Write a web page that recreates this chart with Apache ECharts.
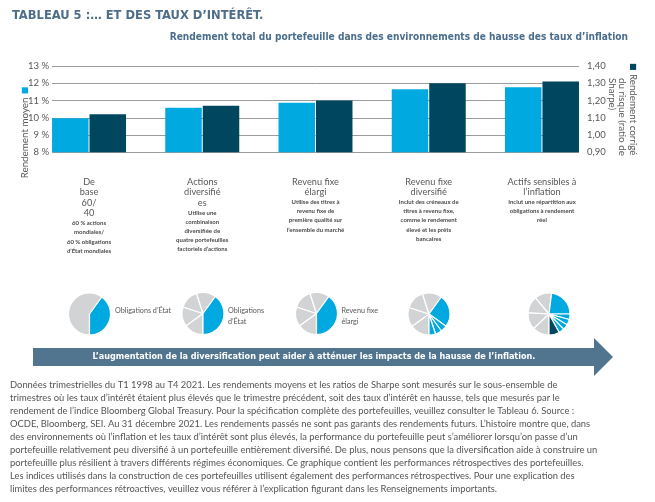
<!DOCTYPE html>
<html><head><meta charset="utf-8">
<script src="https://cdn.jsdelivr.net/npm/echarts@6/dist/echarts.min.js"></script>
<style>html,body{margin:0;padding:0;background:#fff}#c{width:655px;height:502px}</style>
</head><body><div id="c"></div>
<script>
// ---------- data ----------
const categoryTitles = ['De\nbase\n60/\n40', 'Actions\ndiversifié\nes', 'Revenu fixe\nélargi', 'Revenu fixe\ndiversifié', 'Actifs sensibles à\nl’inflation'];
const categoryNotes = [
  '60 % actions\nmondiales/\n60 % obligations\nd’État mondiales',
  'Utilise une\ncombinaison\ndiversifiée de\nquatre portefeuilles\nfactoriels d’actions',
  'Utilise des titres à\nrevenu fixe de\npremière qualité sur\nl’ensemble du marché',
  'Inclut des créneaux de\ntitres à revenu fixe,\ncomme le rendement\nélevé et les prêts\nbancaires',
  'Inclut une répartition aux\nobligations à rendement\nréel'
];
const avgReturn = [9.98, 10.58, 10.87, 11.66, 11.77];        // Rendement moyen (%)
const sharpeRatio = [1.12, 1.17, 1.20, 1.30, 1.31];           // ratio de Sharpe
const leftTickLabels = ['8 %', '9 %', '10 %', '11 %', '12 %', '13 %'];
const rightTickLabels = ['0,90', '1,00', '1,10', '1,20', '1,30', '1,40'];
const pieValues = [
  [60, 40],
  [15, 15, 15, 15, 40],
  [15, 15, 15, 15, 40],
  [15, 15, 15, 15, 25, 5, 5, 5],
  [13, 13, 13, 13, 23, 4.25, 4.25, 4.25, 4.25, 8]
];
const pieTypes = [
  ['Actions', 'Obligations'],
  ['Actions', 'Actions', 'Actions', 'Actions', 'Obligations'],
  ['Actions', 'Actions', 'Actions', 'Actions', 'Obligations'],
  ['Actions', 'Actions', 'Actions', 'Actions', 'Obligations', 'Obligations', 'Obligations', 'Obligations'],
  ['Actions', 'Actions', 'Actions', 'Actions', 'Obligations', 'Obligations', 'Obligations', 'Obligations', 'Obligations', 'Réel']
];
const pieCaptions = ['Obligations d’État', 'Obligations\nd’État', 'Revenu fixe\nélargi', '', ''];
const titleText = 'TABLEAU 5 :… ET DES TAUX D’INTÉRÊT.';
const subtitleText = 'Rendement total du portefeuille dans des environnements de hausse des taux d’inflation';
const arrowText = 'L’augmentation de la diversification peut aider à atténuer les impacts de la hausse de l’inflation.';
const footnoteLines = [
  'Données trimestrielles du T1 1998 au T4 2021. Les rendements moyens et les ratios de Sharpe sont mesurés sur le sous-ensemble de',
  'trimestres où les taux d’intérêt étaient plus élevés que le trimestre précédent, soit des taux d’intérêt en hausse, tels que mesurés par le',
  'rendement de l’indice Bloomberg Global Treasury. Pour la spécification complète des portefeuilles, veuillez consulter le Tableau 6. Source :',
  'OCDE, Bloomberg, SEI. Au 31 décembre 2021. Les rendements passés ne sont pas garants des rendements futurs. L’histoire montre que, dans',
  'des environnements où l’inflation et les taux d’intérêt sont plus élevés, la performance du portefeuille peut s’améliorer lorsqu’on passe d’un',
  'portefeuille relativement peu diversifié à un portefeuille entièrement diversifié. De plus, nous pensons que la diversification aide à construire un',
  'portefeuille plus résilient à travers différents régimes économiques. Ce graphique contient les performances rétrospectives des portefeuilles.',
  'Les indices utilisés dans la construction de ces portefeuilles utilisent également des performances rétrospectives. Pour une explication des',
  'limites des performances rétroactives, veuillez vous référer à l’explication figurant dans les Renseignements importants.'
];

// ---------- styling ----------
const LIGHT = '#00A9E0', DARK = '#00465E', GRAY = '#D1D3D5';
const typeColor = { 'Actions': GRAY, 'Obligations': LIGHT, 'Réel': DARK };
const F = 'Lato, "Open Sans", sans-serif';
const NARROW = '"Liberation Sans Narrow", "DejaVu Sans Condensed", sans-serif';
const TXT = '#585858';

const chart = echarts.init(document.getElementById('c'), null, { renderer: 'canvas' });

const pieCenters = [[89.5, 314], [203, 313.5], [316.5, 313.5], [429, 314], [549, 314]];
const pieSeries = pieValues.map((vals, p) => ({
  type: 'pie', silent: true, animation: false,
  center: pieCenters[p], radius: 21, startAngle: -90, clockwise: true,
  label: { show: false }, labelLine: { show: false },
  itemStyle: { borderColor: '#fff', borderWidth: 1.2 },
  data: vals.map((v, i) => ({ value: v, name: pieTypes[p][i], itemStyle: { color: typeColor[pieTypes[p][i]] } }))
}));

function catLabel(i) {
  const t = categoryTitles[i].split('\n').map(s => '{t|' + s + '}');
  const d = categoryNotes[i].split('\n').map(s => '{d|' + s + '}');
  return t.concat(d).join('\n');
}

const option = {
  animation: false,
  backgroundColor: '#fff',
  grid: { left: 52, right: 76, top: 66, height: 86.3 },
  xAxis: {
    type: 'value', min: -0.327, max: 4.327,
    axisLine: { show: false }, axisTick: { show: false }, splitLine: { show: false },
    axisLabel: {
      show: true, customValues: [0, 1, 2, 3, 4], margin: 24, align: 'center', verticalAlign: 'top',
      formatter: v => catLabel(Math.round(v)),
      rich: {
        t: { fontFamily: F, fontSize: 9.2, lineHeight: 10.6, color: TXT },
        d: { fontFamily: F, fontSize: 6, lineHeight: 9.2, color: '#4a4a4a', fontWeight: 'bold' }
      }
    }
  },
  yAxis: [
    {
      type: 'value', min: 8, max: 13, interval: 1,
      axisLine: { show: false }, axisTick: { show: false },
      splitLine: { show: true, lineStyle: { color: '#9C9C9C', width: 1 } },
      axisLabel: { margin: 3, fontFamily: F, fontSize: 9.5, color: TXT,
        formatter: v => leftTickLabels[Math.round(v - 8)] }
    },
    {
      type: 'value', min: 0.9, max: 1.4, interval: 0.1,
      axisLine: { show: false }, axisTick: { show: false }, splitLine: { show: false },
      axisLabel: { margin: 8, fontFamily: F, fontSize: 9.5, color: TXT,
        formatter: v => rightTickLabels[Math.round((v - 0.9) * 10)] }
    }
  ],
  series: [
    { type: 'bar', name: 'Rendement moyen', yAxisIndex: 0, barWidth: 36.5, barGap: '2.7%',
      itemStyle: { color: LIGHT }, silent: true,
      data: avgReturn.map((v, i) => [i, v]) },
    { type: 'bar', name: 'Rendement corrigé du risque (ratio de Sharpe)', yAxisIndex: 1, barWidth: 36.5, barGap: '2.7%',
      itemStyle: { color: DARK }, silent: true,
      data: sharpeRatio.map((v, i) => [i, v]) }
  ].concat(pieSeries),
  graphic: [
    { type: 'text', x: 12, y: 15.5, style: { text: titleText, font: 'bold 12.8px ' + NARROW, fill: '#4E6D89', verticalAlign: 'middle' } },
    { type: 'text', x: 628, y: 37, style: { text: subtitleText, font: 'bold 10.1px ' + NARROW, fill: '#4A6D8C', align: 'right', verticalAlign: 'middle' } },
    // left axis name (rotated)
    { type: 'text', x: 25, y: 132.5, rotation: Math.PI / 2,
      style: { text: '{a|Rendement moyen} {b|■}', align: 'center', verticalAlign: 'middle',
        rich: { a: { font: '9.8px ' + F, fill: TXT }, b: { font: '8px DejaVu Sans', fill: LIGHT } } } },
    // right axis name (rotated)
    { type: 'text', x: 633, y: 63, rotation: -Math.PI / 2,
      style: { text: '{b|■} {a|Rendement corrigé}', align: 'left', verticalAlign: 'middle',
        rich: { a: { font: '9.8px ' + F, fill: TXT }, b: { font: '8px DejaVu Sans', fill: DARK } } } },
    { type: 'text', x: 622.5, y: 78, rotation: -Math.PI / 2,
      style: { text: 'du risque (ratio de', font: '9.8px ' + F, fill: TXT, align: 'left', verticalAlign: 'middle' } },
    { type: 'text', x: 612, y: 78, rotation: -Math.PI / 2,
      style: { text: 'Sharpe)', font: '9.8px ' + F, fill: TXT, align: 'left', verticalAlign: 'middle' } },
    // pie captions
    { type: 'text', x: 115, y: 311, style: { text: pieCaptions[0], font: '7.2px ' + F, fill: TXT, verticalAlign: 'middle' } },
    { type: 'text', x: 228, y: 305, style: { text: pieCaptions[1], font: '7.2px ' + F, fill: TXT, verticalAlign: 'top', lineHeight: 11 } },
    { type: 'text', x: 341.5, y: 305, style: { text: pieCaptions[2], font: '7.2px ' + F, fill: TXT, verticalAlign: 'top', lineHeight: 11 } },
    // arrow
    { type: 'polygon', shape: { points: [[33, 348], [594, 348], [594, 338], [613, 357], [594, 376], [594, 366], [33, 366]] },
      style: { fill: '#52758F' }, silent: true },
    { type: 'text', x: 314, y: 357, style: { text: arrowText, font: 'bold 9px ' + NARROW, fill: '#fff', align: 'center', verticalAlign: 'middle' } },
    // footnote
    { type: 'text', x: 10, y: 378.5, style: { text: footnoteLines.join('\n'), font: '9.4px ' + F, fill: '#555', lineHeight: 13, verticalAlign: 'top' } }
  ]
};
chart.setOption(option);
</script>
</body></html>
